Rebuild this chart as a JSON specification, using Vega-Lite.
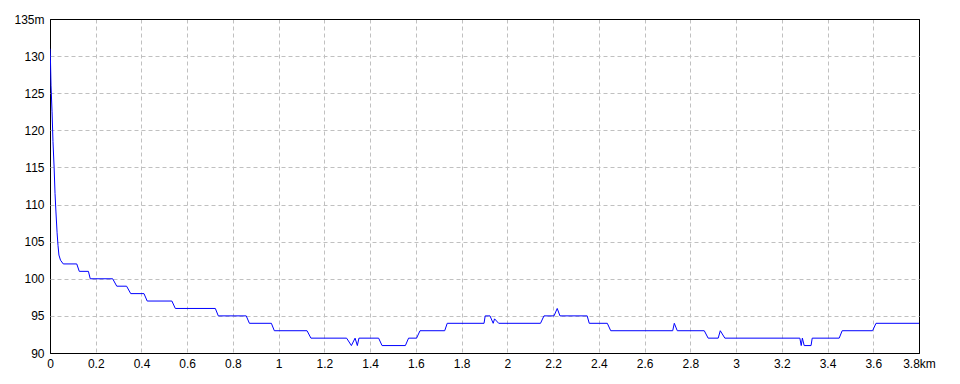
{
  "$schema": "https://vega.github.io/schema/vega-lite/v6.json",
  "autosize": {"type": "none"},
  "padding": {"left": 50, "top": 19, "right": 41, "bottom": 31},
  "width": 869,
  "height": 334,
  "background": "white",
  "config": {
    "view": {"stroke": "black", "strokeWidth": 1},
    "axis": {
      "labelFont": "Liberation Sans Narrow, Liberation Sans",
      "labelFontSize": 12,
      "labelColor": "black",
      "domain": false,
      "ticks": false,
      "gridWidth": 1,
      "gridOpacity": 1,
      "title": null
    }
  },
  "data": {
    "values": [
      {"d": 0.0, "h": 131},
      {"d": 0.002, "h": 129.5},
      {"d": 0.0045, "h": 126},
      {"d": 0.009, "h": 122.5},
      {"d": 0.013, "h": 118.5},
      {"d": 0.018, "h": 115},
      {"d": 0.022, "h": 111.5},
      {"d": 0.026, "h": 109},
      {"d": 0.031, "h": 106.2},
      {"d": 0.035, "h": 104.5},
      {"d": 0.039, "h": 103.2},
      {"d": 0.046, "h": 102.5},
      {"d": 0.058, "h": 102},
      {"d": 0.117, "h": 102},
      {"d": 0.128, "h": 101},
      {"d": 0.168, "h": 101},
      {"d": 0.176, "h": 100},
      {"d": 0.274, "h": 100},
      {"d": 0.292, "h": 99},
      {"d": 0.335, "h": 99},
      {"d": 0.353, "h": 98},
      {"d": 0.411, "h": 98},
      {"d": 0.425, "h": 97},
      {"d": 0.533, "h": 97},
      {"d": 0.548, "h": 96},
      {"d": 0.723, "h": 96},
      {"d": 0.736, "h": 95},
      {"d": 0.858, "h": 95},
      {"d": 0.872, "h": 94},
      {"d": 0.968, "h": 94},
      {"d": 0.981, "h": 93},
      {"d": 1.124, "h": 93},
      {"d": 1.141, "h": 92},
      {"d": 1.297, "h": 92},
      {"d": 1.318, "h": 91},
      {"d": 1.334, "h": 92},
      {"d": 1.344, "h": 91},
      {"d": 1.351, "h": 92},
      {"d": 1.437, "h": 92},
      {"d": 1.452, "h": 91},
      {"d": 1.554, "h": 91},
      {"d": 1.568, "h": 92},
      {"d": 1.603, "h": 92},
      {"d": 1.618, "h": 93},
      {"d": 1.726, "h": 93},
      {"d": 1.737, "h": 94},
      {"d": 1.898, "h": 94},
      {"d": 1.903, "h": 95},
      {"d": 1.924, "h": 95},
      {"d": 1.938, "h": 94},
      {"d": 1.944, "h": 94.6},
      {"d": 1.962, "h": 94},
      {"d": 2.145, "h": 94},
      {"d": 2.16, "h": 95},
      {"d": 2.204, "h": 95},
      {"d": 2.218, "h": 96},
      {"d": 2.23, "h": 95},
      {"d": 2.349, "h": 95},
      {"d": 2.358, "h": 94},
      {"d": 2.437, "h": 94},
      {"d": 2.452, "h": 93},
      {"d": 2.723, "h": 93},
      {"d": 2.73, "h": 94},
      {"d": 2.743, "h": 93},
      {"d": 2.861, "h": 93},
      {"d": 2.878, "h": 92},
      {"d": 2.922, "h": 92},
      {"d": 2.931, "h": 93},
      {"d": 2.951, "h": 92},
      {"d": 3.279, "h": 92},
      {"d": 3.285, "h": 91},
      {"d": 3.29, "h": 92},
      {"d": 3.298, "h": 91},
      {"d": 3.328, "h": 91},
      {"d": 3.333, "h": 92},
      {"d": 3.451, "h": 92},
      {"d": 3.464, "h": 93},
      {"d": 3.597, "h": 93},
      {"d": 3.612, "h": 94},
      {"d": 3.8, "h": 94}
    ]
  },
  "mark": {"type": "line", "color": "#0000ff", "strokeWidth": 1, "clip": true},
  "encoding": {
    "x": {
      "field": "d",
      "type": "quantitative",
      "scale": {"domain": [0, 3.8], "nice": false, "zero": false},
      "axis": {
        "values": [0, 0.2, 0.4, 0.6, 0.8, 1, 1.2, 1.4, 1.6, 1.8, 2, 2.2, 2.4, 2.6, 2.8, 3, 3.2, 3.4, 3.6, 3.8],
        "format": "~g",
        "labelExpr": "datum.value >= 3.79 ? '3.8km' : datum.label",
        "labelPadding": 5,
        "labelFlush": false,
        "labelOverlap": false,
        "gridColor": {"condition": {"test": "datum.value <= 0.001 || datum.value >= 3.79", "value": "black"}, "value": "#c0c0c0"},
        "gridDash": {"condition": {"test": "datum.value <= 0.001 || datum.value >= 3.79", "value": []}, "value": [4, 3]},
        "encode": {"labels": {"update": {"dx": {"signal": "datum.value >= 3.79 ? 8 : 0"}}}}
      }
    },
    "y": {
      "field": "h",
      "type": "quantitative",
      "scale": {"domain": [90, 135], "nice": false, "zero": false},
      "axis": {
        "values": [90, 95, 100, 105, 110, 115, 120, 125, 130, 135],
        "labelExpr": "datum.value >= 135 ? '135m' : datum.label",
        "labelPadding": 6,
        "labelFlush": false,
        "labelOverlap": false,
        "gridColor": {"condition": {"test": "datum.value <= 90 || datum.value >= 135", "value": "black"}, "value": "#c0c0c0"},
        "gridDash": {"condition": {"test": "datum.value <= 90 || datum.value >= 135", "value": []}, "value": [4, 3]}
      }
    }
  }
}
